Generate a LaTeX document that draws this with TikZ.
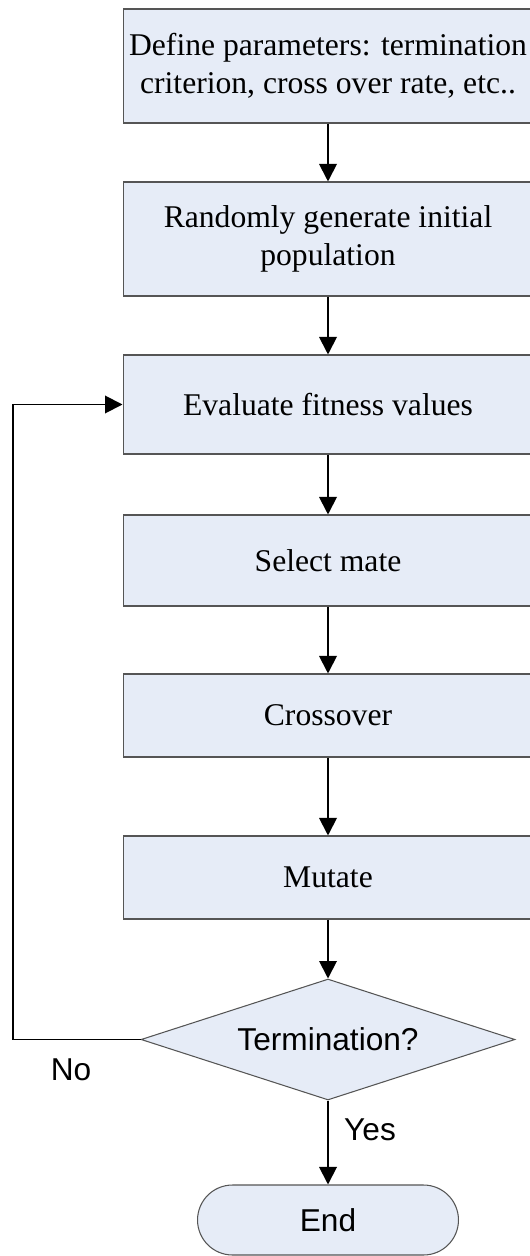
\documentclass[tikz,border=0pt]{standalone}
\usepackage{fontspec}
\setmainfont{Liberation Serif}
\newfontfamily\arialfont{Liberation Sans}
\definecolor{boxfill}{RGB}{230,236,247}
\definecolor{boxline}{RGB}{85,85,85}
\usetikzlibrary{shapes.geometric,arrows.meta}

\begin{document}
\begin{tikzpicture}[x=0.02cm,y=-0.02cm]
      \tikzstyle{block} = [draw=boxline,fill=boxfill,line width=0.6pt,minimum width=8.2cm,inner sep=0pt,align=center,font=\fontsize{18}{21.6}\selectfont]
      \tikzstyle{decision} = [diamond,shape aspect=3,draw=boxline,fill=boxfill,line width=0.6pt,minimum width=7.48cm,minimum height=2.42cm,inner sep=0pt,font=\arialfont\fontsize{18}{21}\selectfont]
      \tikzstyle{stop} = [draw=boxline,fill=boxfill,line width=0.6pt,rounded corners=0.7cm,minimum width=5.22cm,minimum height=1.4cm,font=\arialfont\fontsize{18}{21}\selectfont]
      \tikzstyle{flow} = [line width=1.1pt,-{Triangle[length=0.35cm,width=0.35cm]},draw=black]
      \tikzstyle{answer} = [font=\arialfont\fontsize{18}{21}\selectfont]
      \useasboundingbox (0,0) rectangle (529,1256);
      \node[block,minimum height=2.28cm] (params) at (328,66) {Define parameters: termination\\criterion, cross over rate, etc..};
      \node[block,minimum height=2.28cm] (init) at (328,239) {Randomly generate initial\\population};
      \node[block,minimum height=1.98cm] (eval) at (328,404.5) {Evaluate fitness values};
      \node[block,minimum height=1.82cm] (select) at (328,560.5) {Select mate};
      \node[block,minimum height=1.66cm] (cross) at (328,715.5) {Crossover};
      \node[block,minimum height=1.66cm] (mutate) at (328,877.5) {Mutate};
      \node[decision] (check) at (328,1039.5) {Termination?};
      \node[stop] (end) at (328,1220) {End};
      \coordinate (back) at (13,1039.5);
      \draw[flow] (params) -- (init);
      \draw[flow] (init) -- (eval);
      \draw[flow] (eval) -- (select);
      \draw[flow] (select) -- (cross);
      \draw[flow] (cross) -- (mutate);
      \draw[flow] (mutate) -- (check);
      \draw[flow] (check) -- (end);
      \draw[flow] (check.west) -- (back) |- (eval.west);
      \node[answer] (no) at (71,1070) {No};
      \node[answer] (yes) at (370,1130) {Yes};
    \end{tikzpicture}
\end{document}
